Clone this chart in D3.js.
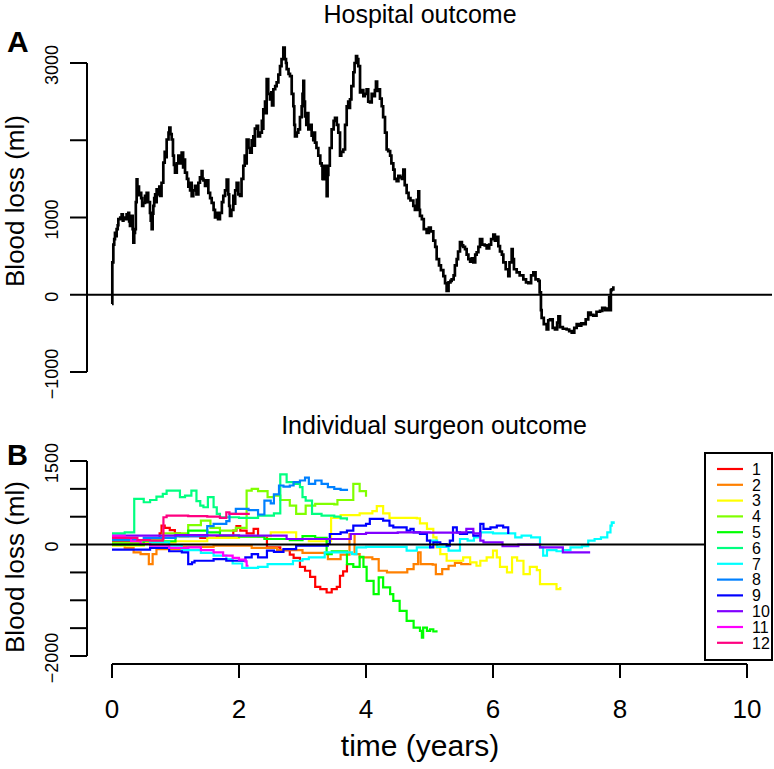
<!DOCTYPE html>
<html><head><meta charset="utf-8">
<script src="https://cdn.jsdelivr.net/npm/d3@7"></script>
<style>body{margin:0;background:#fff}svg{display:block}text{font-family:"Liberation Sans",Arial,sans-serif}</style>
</head><body><svg id="c" width="774" height="769"></svg>
<script>
// ---------- data ----------
const titleA = "Hospital outcome";
const titleB = "Individual surgeon outcome";
const yLabel = "Blood loss (ml)";
const xLabel = "time (years)";
const xTicks = [0, 2, 4, 6, 8, 10];
const yTicksA = [3000, 2000, 1000, 0, -1000];
const yTickLabelsA = ["3000", "", "1000", "0", "-1000"];
const yTicksB = [1500, 1000, 500, 0, -500, -1000, -1500, -2000];
const yTickLabelsB = ["1500", "", "", "0", "", "", "", "-2000"];
const surgeonNames = ["1","2","3","4","5","6","7","8","9","10","11","12"];
const surgeonColors = ["#FF0000","#FF8000","#FFFF00","#80FF00","#00FF00","#00FF80","#00FFFF","#0080FF","#0000FF","#8000FF","#FF00FF","#FF0080"];

// hospital CUSUM [time, value]
const hospital = [[0,-120],[0.005,420],[0.021,650],[0.035,720],[0.047,800],[0.06,760],[0.073,850],[0.09,900],[0.10,980],[0.13,1000],[0.152,1040],[0.17,960],[0.18,1000],[0.205,980],[0.23,1040],[0.257,1060],[0.27,950],[0.283,890],[0.30,960],[0.31,1020],[0.325,850],[0.336,675],[0.35,800],[0.362,850],[0.375,1200],[0.388,1495],[0.40,1380],[0.41,1400],[0.425,1290],[0.441,1320],[0.46,1250],[0.475,1150],[0.493,1190],[0.52,1280],[0.53,1200],[0.546,1320],[0.57,1200],[0.598,1060],[0.61,960],[0.625,850],[0.64,1050],[0.651,1150],[0.665,1250],[0.68,1300],[0.69,1200],[0.703,1365],[0.73,1300],[0.745,1400],[0.756,1280],[0.78,1450],[0.808,1710],[0.83,1850],[0.845,1780],[0.861,2010],[0.89,2100],[0.903,2165],[0.92,2080],[0.94,2010],[0.96,1800],[0.975,1680],[0.992,1580],[1.02,1700],[1.045,1800],[1.07,1700],[1.085,1760],[1.097,1840],[1.12,1650],[1.135,1750],[1.15,1580],[1.18,1500],[1.202,1400],[1.23,1350],[1.24,1450],[1.255,1275],[1.28,1350],[1.307,1410],[1.33,1300],[1.36,1450],[1.385,1520],[1.412,1600],[1.425,1500],[1.44,1480],[1.465,1410],[1.49,1480],[1.517,1320],[1.545,1250],[1.57,1190],[1.60,1100],[1.622,1000],[1.65,1060],[1.67,980],[1.70,1060],[1.73,1200],[1.753,1280],[1.78,1350],[1.806,1490],[1.83,1300],[1.845,1150],[1.858,1020],[1.88,1100],[1.911,1280],[1.925,1180],[1.94,1350],[1.963,1450],[1.99,1300],[2.016,1280],[2.04,1500],[2.068,1670],[2.09,1800],[2.105,1700],[2.121,2010],[2.15,1900],[2.173,1840],[2.20,2000],[2.226,2050],[2.24,1930],[2.25,2150],[2.278,2185],[2.30,2050],[2.331,2100],[2.36,2250],[2.37,2150],[2.383,2400],[2.41,2500],[2.425,2350],[2.436,2790],[2.46,2600],[2.488,2530],[2.51,2620],[2.52,2450],[2.541,2660],[2.57,2700],[2.593,2750],[2.62,2850],[2.646,2960],[2.67,3050],[2.698,3200],[2.72,3050],[2.74,3000],[2.751,2920],[2.78,2860],[2.803,2830],[2.83,2600],[2.856,2440],[2.87,2200],[2.882,2050],[2.91,2100],[2.934,2140],[2.96,2300],[2.987,2440],[3.0,2600],[3.013,2770],[3.025,2500],[3.039,2310],[3.06,2200],[3.075,2350],[3.092,2140],[3.12,2200],[3.144,2060],[3.17,2000],[3.185,2100],[3.197,1970],[3.22,1900],[3.249,1800],[3.28,1700],[3.302,1670],[3.315,1500],[3.328,1495],[3.34,1650],[3.354,1670],[3.37,1500],[3.381,1275],[3.395,1550],[3.407,1670],[3.43,1900],[3.459,2140],[3.49,2250],[3.512,2290],[3.54,2200],[3.564,2100],[3.591,1800],[3.61,1850],[3.643,1880],[3.67,2200],[3.696,2440],[3.72,2500],[3.735,2420],[3.748,2530],[3.77,2700],[3.801,2880],[3.82,3000],[3.843,3090],[3.86,3050],[3.879,2960],[3.906,2620],[3.93,2650],[3.958,2570],[3.98,2600],[4.01,2660],[4.035,2500],[4.063,2490],[4.09,2600],[4.115,2570],[4.14,2650],[4.157,2760],[4.175,2640],[4.194,2660],[4.22,2540],[4.247,2440],[4.27,2300],[4.299,2100],[4.325,1880],[4.35,1860],[4.38,1800],[4.40,1700],[4.43,1620],[4.45,1500],[4.483,1470],[4.51,1540],[4.54,1520],[4.565,1500],[4.588,1620],[4.61,1420],[4.64,1320],[4.67,1250],[4.70,1220],[4.745,1150],[4.77,1100],[4.80,1230],[4.824,1340],[4.837,1100],[4.85,1020],[4.88,980],[4.91,850],[4.955,800],[4.99,870],[5.02,820],[5.06,700],[5.09,620],[5.113,460],[5.15,380],[5.18,320],[5.218,240],[5.245,150],[5.27,50],[5.30,160],[5.33,180],[5.349,200],[5.38,250],[5.40,380],[5.428,460],[5.45,560],[5.48,680],[5.51,640],[5.53,620],[5.559,590],[5.585,520],[5.612,460],[5.64,430],[5.665,470],[5.69,420],[5.72,520],[5.743,550],[5.77,620],[5.795,720],[5.83,650],[5.87,640],[5.9,600],[5.94,650],[5.97,720],[6.005,780],[6.03,700],[6.06,750],[6.084,630],[6.11,560],[6.14,520],[6.163,420],[6.20,330],[6.241,240],[6.26,420],[6.294,590],[6.31,460],[6.33,330],[6.373,290],[6.42,250],[6.478,200],[6.52,160],[6.556,150],[6.6,250],[6.635,290],[6.67,200],[6.714,180],[6.735,30],[6.755,-200],[6.766,-300],[6.80,-380],[6.845,-450],[6.87,-330],[6.898,-320],[6.94,-430],[6.976,-450],[7.01,-360],[7.03,-280],[7.055,-420],[7.1,-440],[7.16,-450],[7.2,-470],[7.24,-490],[7.28,-430],[7.318,-380],[7.36,-400],[7.39,-370],[7.423,-380],[7.46,-320],[7.5,-230],[7.54,-260],[7.58,-270],[7.63,-220],[7.685,-210],[7.72,-170],[7.764,-200],[7.79,-180],[7.816,-200],[7.83,-30],[7.843,-200],[7.856,60],[7.87,70],[7.895,110]];

// individual surgeons [time, value]
const surgeon1 = [[0,50],[0.3,30],[0.6,80],[0.75,200],[0.78,340],[0.83,300],[0.91,260],[0.99,200],[1.07,150],[1.39,120],[1.65,150],[1.91,250],[1.96,330],[2.02,250],[2.12,200],[2.23,280],[2.3,150],[2.44,-50],[2.65,-100],[2.8,-180],[2.86,-240],[2.96,-400],[3.04,-470],[3.12,-580],[3.2,-760],[3.28,-800],[3.38,-860],[3.46,-800],[3.54,-760],[3.59,-560],[3.64,-480],[3.7,-370],[3.72,-370]];
const surgeon2 = [[0,0],[0.2,-60],[0.34,-140],[0.45,-170],[0.58,-350],[0.64,-170],[0.7,-80],[1.1,-40],[1.6,-20],[2.2,-60],[2.6,-100],[3.0,-150],[3.4,-260],[3.6,-180],[3.74,190],[3.82,-170],[3.9,-230],[4.1,-260],[4.2,-470],[4.33,-500],[4.6,-500],[4.65,-440],[4.75,-350],[4.82,-140],[4.86,-350],[5.05,-360],[5.1,-530],[5.2,-440],[5.3,-380],[5.4,-330],[5.5,-350],[5.66,-350]];
const surgeon3 = [[0,-20],[0.5,40],[1.0,60],[1.5,120],[2.0,150],[2.5,220],[2.9,100],[3.1,60],[3.45,480],[3.6,530],[3.9,560],[4.1,600],[4.17,690],[4.27,560],[4.37,480],[4.8,470],[4.85,380],[4.96,280],[5.06,130],[5.11,-50],[5.17,-170],[5.27,-290],[5.48,-290],[5.53,-230],[5.64,-320],[5.74,-380],[5.8,-290],[5.9,-230],[6.0,-110],[6.06,-230],[6.11,-400],[6.22,-500],[6.3,-230],[6.38,-290],[6.48,-530],[6.58,-400],[6.69,-460],[6.74,-710],[6.95,-710],[7.0,-800],[7.06,-760]];
const surgeon4 = [[0,30],[0.5,80],[0.8,200],[1.2,350],[1.4,430],[1.55,300],[1.7,250],[1.95,300],[2.12,970],[2.2,1000],[2.3,960],[2.45,850],[2.55,880],[2.65,800],[2.8,700],[2.9,550],[3.05,700],[3.2,730],[3.5,720],[3.55,800],[3.7,800],[3.8,1090],[3.9,960],[4.0,860]];
const surgeon5 = [[0,0],[0.5,60],[1.0,150],[1.2,250],[1.5,220],[1.7,160],[2.0,140],[2.4,100],[2.8,80],[3.0,150],[3.2,120],[3.38,-170],[3.46,-120],[3.7,-350],[3.8,-400],[3.9,-220],[3.96,-400],[4.01,-650],[4.12,-890],[4.2,-590],[4.27,-770],[4.38,-890],[4.43,-1010],[4.53,-1190],[4.64,-1370],[4.75,-1490],[4.85,-1550],[4.88,-1670],[4.9,-1490],[4.96,-1550],[5.01,-1520],[5.06,-1560],[5.11,-1540]];
const surgeon6 = [[0,200],[0.2,220],[0.35,820],[0.5,760],[0.6,800],[0.7,860],[0.8,910],[0.86,970],[0.96,970],[1.07,850],[1.15,880],[1.25,970],[1.33,780],[1.39,700],[1.44,670],[1.51,850],[1.6,670],[1.65,550],[1.7,490],[2.0,480],[2.3,520],[2.55,560],[2.65,1260],[2.75,1120],[2.86,1090],[2.96,1030],[3.0,850],[3.05,790],[3.15,550],[3.3,520],[3.5,500],[3.6,470],[3.7,430]];
const surgeon7 = [[0,100],[0.3,80],[0.6,40],[0.9,-20],[1.1,-100],[1.4,-150],[1.6,-200],[1.8,-260],[1.9,-340],[2.05,-420],[2.3,-400],[2.45,-350],[2.75,-350],[2.85,-290],[3.0,-260],[3.1,-230],[3.35,-140],[3.7,-140],[3.78,-170],[3.85,-50],[4.0,-40],[4.3,-40],[4.64,-110],[4.8,-50],[5.01,70],[5.12,-40],[5.3,-110],[5.48,100],[5.6,70],[5.7,130],[5.8,220],[6.0,200],[6.3,200],[6.35,130],[6.45,160],[6.6,130],[6.74,-50],[6.79,-200],[6.85,-100],[7.0,-120],[7.1,-100],[7.22,-50],[7.4,-30],[7.5,70],[7.6,100],[7.7,130],[7.8,220],[7.85,340],[7.87,400],[7.9,370]];
const surgeon8 = [[0,80],[0.5,120],[1.0,150],[1.5,330],[1.6,370],[1.8,420],[1.85,550],[1.95,640],[2.15,620],[2.3,540],[2.4,790],[2.5,740],[2.55,900],[2.63,1060],[2.7,1040],[2.8,1060],[2.86,1120],[2.96,1150],[3.04,1200],[3.1,1090],[3.2,1150],[3.3,1090],[3.4,1030],[3.5,1000],[3.6,980],[3.7,960]];
const surgeon9 = [[0,-90],[0.35,-90],[0.6,-60],[0.9,-120],[1.1,-140],[1.2,-350],[1.26,-320],[1.3,-290],[1.6,-260],[1.8,-290],[2.1,-230],[2.2,-170],[2.3,-230],[2.44,-110],[2.55,-130],[2.7,-80],[2.9,-20],[3.4,10],[3.43,190],[3.6,220],[3.7,250],[3.8,340],[4.0,370],[4.06,460],[4.27,430],[4.37,340],[4.43,310],[4.64,250],[4.7,280],[4.75,220],[4.85,190],[4.96,70],[5.01,-50],[5.06,40],[5.17,10],[5.27,-20],[5.32,70],[5.37,310],[5.43,220],[5.48,190],[5.59,220],[5.69,160],[5.8,370],[5.85,280],[5.96,310],[6.06,340],[6.16,310],[6.24,190]];
const surgeon10 = [[0,160],[0.5,160],[1.0,170],[1.5,165],[2.0,160],[2.7,160],[2.75,100],[3.2,100],[3.7,100],[3.76,190],[4.0,210],[4.5,220],[5.0,215],[5.5,220],[5.58,280],[5.69,200],[5.8,70],[5.85,40],[6.1,40],[6.15,-30],[6.37,-30],[6.4,0],[6.72,0],[6.74,-50],[7.08,-50],[7.1,-140],[7.53,-140]];
const surgeon11 = [[0,150],[0.2,120],[0.3,60],[0.45,10],[0.6,-20],[0.9,-60],[1.2,-50],[1.4,-100],[1.6,-140],[1.75,-200],[1.9,-240],[2.0,-270],[2.1,-300],[2.12,-380],[2.15,-380]];
const surgeon12 = [[0,120],[0.4,80],[0.6,70],[0.8,100],[0.81,490],[0.86,520],[1.2,510],[1.5,500],[1.7,480],[1.8,580],[1.85,550],[2.1,550],[2.17,550]];
const surgeons = [surgeon1,surgeon2,surgeon3,surgeon4,surgeon5,surgeon6,surgeon7,surgeon8,surgeon9,surgeon10,surgeon11,surgeon12];

// ---------- drawing ----------
const svg = d3.select("#c");
const x = d3.scaleLinear().domain([0, 10]).range([112, 747]);
const yA = d3.scaleLinear().domain([-1000, 3000]).range([372, 63]);
const yB = d3.scaleLinear().domain([-2000, 1500]).range([656, 461]);
const axisX = 87;

function yAxis(scale, ticks, labels) {
  const g = svg.append("g");
  g.append("line").attr("x1", axisX).attr("x2", axisX)
    .attr("y1", scale(d3.max(ticks))).attr("y2", scale(d3.min(ticks)))
    .attr("stroke", "#000").attr("stroke-width", 2);
  ticks.forEach((t, i) => {
    g.append("line").attr("x1", axisX).attr("x2", 70).attr("y1", scale(t)).attr("y2", scale(t))
      .attr("stroke", "#000").attr("stroke-width", 2);
    if (labels[i]) g.append("text").attr("transform", `translate(58,${scale(t) + 2}) rotate(-90)`)
      .attr("text-anchor", "middle").attr("font-size", 18).text(labels[i].replace("-", "\u2212"));
  });
}

// Panel A
svg.append("text").attr("x", 420).attr("y", 23).attr("text-anchor", "middle").attr("font-size", 25).text(titleA);
svg.append("text").attr("x", 7).attr("y", 52).attr("font-size", 30).attr("font-weight", "bold").text("A");
yAxis(yA, yTicksA, yTickLabelsA);
svg.append("text").attr("transform", "translate(24,201) rotate(-90)").attr("text-anchor", "middle").attr("font-size", 26).text(yLabel);
const lineA = d3.line().x(d => x(d[0])).y(d => yA(d[1])).curve(d3.curveStepAfter);
svg.append("path").datum(hospital).attr("d", lineA).attr("fill", "none").attr("stroke", "#000").attr("stroke-width", 2.7);
svg.append("line").attr("x1", axisX).attr("x2", 772).attr("y1", yA(0)).attr("y2", yA(0)).attr("stroke", "#000").attr("stroke-width", 2);

// Panel B
svg.append("text").attr("x", 434).attr("y", 434).attr("text-anchor", "middle").attr("font-size", 25).text(titleB);
svg.append("text").attr("x", 7).attr("y", 465).attr("font-size", 29).attr("font-weight", "bold").text("B");
yAxis(yB, yTicksB, yTickLabelsB);
svg.append("text").attr("transform", "translate(24,567) rotate(-90)").attr("text-anchor", "middle").attr("font-size", 26).text(yLabel);
const lineB = d3.line().x(d => x(d[0])).y(d => yB(d[1])).curve(d3.curveStepAfter);
surgeons.forEach((s, i) => {
  svg.append("path").datum(s).attr("d", lineB).attr("fill", "none").attr("stroke", surgeonColors[i]).attr("stroke-width", 2.2);
});
svg.append("line").attr("x1", axisX).attr("x2", 772).attr("y1", yB(0)).attr("y2", yB(0)).attr("stroke", "#000").attr("stroke-width", 2);

// X axis
const gx = svg.append("g");
gx.append("line").attr("x1", x(0)).attr("x2", x(10)).attr("y1", 664).attr("y2", 664).attr("stroke", "#000").attr("stroke-width", 2);
xTicks.forEach(t => {
  gx.append("line").attr("x1", x(t)).attr("x2", x(t)).attr("y1", 664).attr("y2", 678).attr("stroke", "#000").attr("stroke-width", 2);
  gx.append("text").attr("x", x(t)).attr("y", 718).attr("text-anchor", "middle").attr("font-size", 26).text(t);
});
svg.append("text").attr("x", 420).attr("y", 756).attr("text-anchor", "middle").attr("font-size", 30).text(xLabel);

// Legend
const lg = svg.append("g");
lg.append("rect").attr("x", 705).attr("y", 453).attr("width", 67).attr("height", 207)
  .attr("fill", "#fff").attr("stroke", "#000").attr("stroke-width", 2);
surgeonNames.forEach((n, i) => {
  const yy = 469 + i * 15.8;
  lg.append("line").attr("x1", 717).attr("x2", 743).attr("y1", yy).attr("y2", yy).attr("stroke", surgeonColors[i]).attr("stroke-width", 2.2);
  lg.append("text").attr("x", 752).attr("y", yy).attr("dy", "0.36em").attr("font-size", 16).text(n);
});
</script></body></html>
